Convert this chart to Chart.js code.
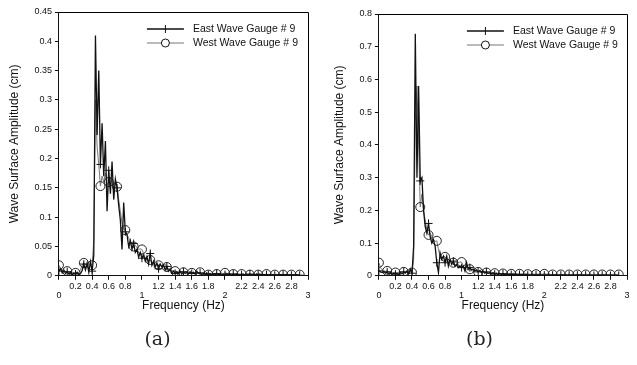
<!DOCTYPE html>
<html>
<head>
<meta charset="utf-8">
<script src="https://cdn.jsdelivr.net/npm/chart.js@4/dist/chart.umd.min.js"></script>
<style>
    body { margin: 0; background: #fff; }
    .wrap { display: flex; width: 637px; height: 365px; }
    .panel { position: relative; width: 318px; height: 365px; }
    .panel:last-child { width: 319px; }
</style>
</head>
<body>
<div class="wrap">
    <div class="panel"><canvas id="chartA"></canvas></div>
    <div class="panel"><canvas id="chartB"></canvas></div>
</div>
<script>
// frequency grid, Hz
const freqStep = 0.02;
const freqCount = 146;

const eastA = [
    .008,.012,.005,.009,.004,.007,.003,.006,.002,.005,
    .003,.006,.002,.004,.009,.02,.01,.022,.006,.024,
    .008,.035,.41,.24,.35,.19,.26,.17,.23,.11,
    .18,.14,.195,.13,.165,.15,.12,.095,.045,.125,
    .075,.07,.05,.06,.045,.055,.04,.045,.032,.04,
    .03,.035,.025,.033,.02,.038,.018,.025,.015,.022,
    .012,.02,.015,.018,.01,.016,.008,.012,.005,.008,
    .004,.007,.004,.008,.003,.007,.004,.006,.003,.007,
    .004,.006,.003,.008,.004,.005,.002,.004,.003,.005,
    .002,.004,.002,.003,.001,.004,.002,.003,.001,.003,
    .002,.004,.002,.003,.001,.003,.002,.003,.001,.002,
    .002,.003,.001,.002,.001,.003,.001,.002,.001,.003,
    .002,.003,.001,.002,.001,.002,.001,.002,.001,.002,
    .001,.002,.001,.002,.001,.002,.001,.002,.001,.002,
    .001,.002,.001,.002,.001,.001
];
const westA = [
    .018,.013,.009,.011,.007,.008,.006,.005,.006,.004,
    .005,.004,.006,.01,.018,.022,.02,.014,.019,.021,
    .018,.06,.3,.22,.19,.153,.17,.16,.175,.155,
    .16,.168,.158,.15,.157,.152,.13,.11,.09,.08,
    .078,.07,.065,.058,.055,.05,.052,.048,.045,.046,
    .045,.038,.03,.028,.025,.027,.022,.02,.021,.018,
    .018,.02,.016,.018,.02,.015,.012,.01,.009,.008,
    .008,.007,.006,.006,.005,.006,.005,.005,.006,.005,
    .005,.006,.005,.005,.004,.006,.004,.005,.004,.003,
    .002,.003,.003,.002,.002,.003,.003,.004,.003,.004,
    .005,.004,.004,.003,.003,.003,.002,.003,.003,.003,
    .003,.002,.002,.003,.002,.002,.002,.002,.002,.003,
    .002,.002,.002,.002,.002,.003,.002,.002,.002,.002,
    .002,.002,.002,.002,.002,.002,.002,.002,.002,.002,
    .002,.002,.002,.002,.002,.002
];
const eastB = [
    .015,.012,.01,.013,.008,.012,.006,.01,.005,.008,
    .005,.008,.004,.01,.006,.012,.008,.015,.006,.02,
    .008,.09,.74,.3,.58,.29,.3,.2,.15,.13,
    .16,.12,.1,.11,.09,.04,.01,.07,.05,.06,
    .04,.06,.03,.05,.035,.045,.03,.035,.025,.03,
    .025,.03,.015,.04,.02,.025,.018,.02,.015,.018,
    .012,.016,.01,.014,.008,.012,.007,.01,.006,.009,
    .005,.008,.004,.007,.004,.006,.003,.006,.003,.005,
    .004,.005,.003,.005,.003,.004,.002,.004,.002,.004,
    .002,.003,.002,.003,.001,.003,.002,.003,.001,.003,
    .002,.003,.002,.003,.001,.002,.002,.003,.001,.002,
    .002,.003,.001,.002,.001,.002,.001,.002,.001,.002,
    .002,.002,.001,.002,.001,.002,.001,.002,.001,.002,
    .001,.002,.001,.002,.001,.002,.001,.002,.001,.002,
    .001,.002,.001,.002,.001,.001
];
const westB = [
    .04,.025,.018,.015,.014,.015,.012,.011,.01,.01,
    .01,.009,.01,.011,.012,.012,.011,.012,.013,.012,
    .01,.05,.47,.58,.4,.21,.25,.2,.17,.14,
    .125,.13,.12,.11,.105,.107,.08,.06,.055,.06,
    .058,.05,.048,.045,.042,.04,.042,.04,.04,.042,
    .042,.03,.022,.02,.018,.02,.015,.014,.016,.018,
    .012,.014,.02,.016,.012,.01,.008,.007,.009,.01,
    .008,.008,.007,.007,.006,.007,.007,.006,.007,.007,
    .006,.007,.007,.006,.006,.006,.006,.005,.006,.006,
    .005,.005,.005,.005,.005,.005,.005,.005,.005,.005,
    .006,.005,.005,.005,.004,.004,.004,.004,.004,.004,
    .004,.004,.004,.004,.004,.004,.004,.004,.004,.004,
    .004,.004,.004,.004,.004,.004,.004,.004,.004,.004,
    .004,.004,.004,.004,.004,.004,.004,.004,.004,.004,
    .004,.004,.004,.004,.004,.004
];

const seriesNames = ['East Wave Gauge # 9', 'West Wave Gauge # 9'];
const panelLabels = ['(a)', '(b)'];
const yMaxA = 0.45, yStepA = 0.05;
const yMaxB = 0.8, yStepB = 0.1;

const freqs = [];
for (let i = 0; i < freqCount; i++) freqs.push(Math.round(i * freqStep * 100) / 100);

function toPoints(values) {
    return values.map((v, i) => ({ x: freqs[i], y: v }));
}

const sans = '"Liberation Sans", Arial, sans-serif';

// box around plot + legend with line and marker
const framePlugin = {
    id: 'frame',
    afterDraw(chart) {
        const ctx = chart.ctx;
        const a = chart.chartArea;
        ctx.save();
        ctx.strokeStyle = '#000';
        ctx.lineWidth = 1;
        ctx.beginPath();
        ctx.moveTo(a.left, a.top + 0.5);
        ctx.lineTo(a.right + 0.5, a.top + 0.5);
        ctx.lineTo(a.right + 0.5, a.bottom);
        ctx.stroke();

        chart.data.datasets.forEach((ds, i) => {
            const y = a.top + 17 + i * 14;
            const x1 = a.left + 88;
            const x2 = a.left + 125;
            ctx.strokeStyle = ds.borderColor;
            ctx.lineWidth = ds.borderWidth;
            ctx.beginPath();
            ctx.moveTo(x1, y);
            ctx.lineTo(x2, y);
            ctx.stroke();
            const mx = (x1 + x2) / 2;
            ctx.strokeStyle = '#111';
            ctx.lineWidth = 1;
            ctx.beginPath();
            if (ds.pointStyle === 'cross') {
                ctx.moveTo(mx, y - 4);
                ctx.lineTo(mx, y + 4);
            } else {
                ctx.arc(mx, y, 4, 0, Math.PI * 2);
                ctx.fillStyle = '#fff';
                ctx.fill();
            }
            ctx.stroke();
            ctx.fillStyle = '#111';
            ctx.font = '10.5px ' + sans;
            ctx.textBaseline = 'middle';
            ctx.fillText(ds.label, a.left + 134, y);
        });
        ctx.restore();
    }
};

function makeChart(id, east, west, yMax, yStep, panelLabel, padLeft, padTop) {
    const ctx = document.getElementById(id).getContext('2d');
    return new Chart(ctx, {
        type: 'line',
        data: {
            datasets: [{
                label: seriesNames[0],
                data: toPoints(east),
                borderColor: '#111',
                borderWidth: 1.3,
                pointStyle: 'cross',
                pointRadius: (c) => (c.dataIndex % 5 === 0 ? 4 : 0),
                pointBorderColor: '#111',
                pointBorderWidth: 1,
                tension: 0
            }, {
                label: seriesNames[1],
                data: toPoints(west),
                borderColor: '#777',
                borderWidth: 1,
                pointStyle: 'circle',
                pointRadius: (c) => (c.dataIndex % 5 === 0 ? 4.5 : 0),
                pointBorderColor: '#222',
                pointBackgroundColor: 'rgba(255,255,255,0)',
                pointBorderWidth: 1,
                tension: 0
            }]
        },
        options: {
            responsive: true,
            maintainAspectRatio: false,
            animation: false,
            layout: { padding: { left: padLeft, right: 10, top: padTop, bottom: 0 } },
            plugins: {
                legend: { display: false },
                tooltip: { enabled: false },
                title: {
                    display: true,
                    position: 'bottom',
                    text: panelLabel,
                    color: '#222',
                    font: { family: '"DejaVu Serif", serif', size: 19, weight: 'normal' },
                    padding: { top: 15, bottom: 14 }
                }
            },
            scales: {
                x: {
                    type: 'linear',
                    min: 0,
                    max: 3,
                    grid: { display: true, drawOnChartArea: false, drawTicks: true, tickLength: 4, color: '#111' },
                    border: { color: '#111', width: 1 },
                    ticks: {
                        stepSize: 0.2,
                        autoSkip: false,
                        maxRotation: 0,
                        padding: 2,
                        color: '#111',
                        font: { family: sans, size: 9, lineHeight: 1.0 },
                        callback: (v) => {
                            const r = Math.round(v * 10) / 10;
                            if (Math.abs(r - Math.round(r)) < 1e-6) return ['', String(Math.round(r))];
                            return String(r);
                        }
                    },
                    title: {
                        display: true,
                        text: 'Frequency (Hz)',
                        color: '#111',
                        font: { family: sans, size: 12 },
                        padding: { top: -3, bottom: 0 }
                    }
                },
                y: {
                    min: 0,
                    max: yMax,
                    grid: { display: true, drawOnChartArea: false, drawTicks: true, tickLength: 4, color: '#111' },
                    border: { color: '#111', width: 1 },
                    ticks: {
                        stepSize: yStep,
                        padding: 3,
                        color: '#111',
                        font: { family: sans, size: 9 },
                        callback: (v) => String(Math.round(v * 100) / 100)
                    },
                    title: {
                        display: true,
                        text: 'Wave Surface Amplitude (cm)',
                        color: '#111',
                        font: { family: sans, size: 12 },
                        padding: { top: 0, bottom: 10 }
                    }
                }
            }
        },
        plugins: [framePlugin]
    });
}

makeChart('chartA', eastA, westA, yMaxA, yStepA, panelLabels[0], 7, 12);
makeChart('chartB', eastB, westB, yMaxB, yStepB, panelLabels[1], 14, 14);
</script>
</body>
</html>
